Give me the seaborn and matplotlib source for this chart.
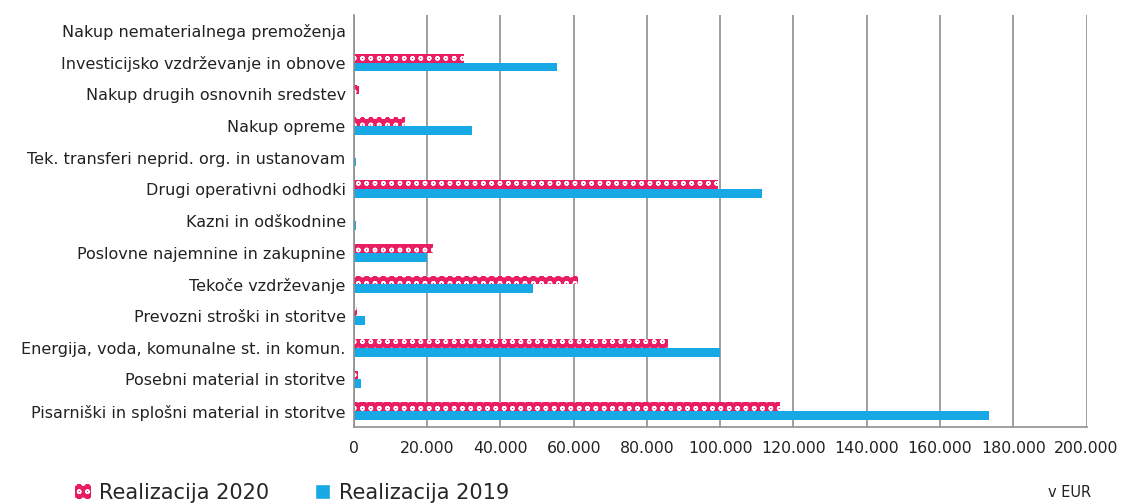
import matplotlib
matplotlib.use("Agg")
import matplotlib.pyplot as plt
import matplotlib.ticker as mticker
from matplotlib.patches import Patch
import pandas as pd
import seaborn as sns

PINK = "#ea1c63"
BLUE = "#17a8e6"
GRID = "#8f8f8f"

categories = [
    "Nakup nematerialnega premoženja",
    "Investicijsko vzdrževanje in obnove",
    "Nakup drugih osnovnih sredstev",
    "Nakup opreme",
    "Tek. transferi neprid. org. in ustanovam",
    "Drugi operativni odhodki",
    "Kazni in odškodnine",
    "Poslovne najemnine in zakupnine",
    "Tekoče vzdrževanje",
    "Prevozni stroški in storitve",
    "Energija, voda, komunalne st. in komun.",
    "Posebni material in storitve",
    "Pisarniški in splošni material in storitve",
]
realizacija_2020 = [0, 30000, 1400, 14000, 0, 99500, 0, 21600, 61200, 900, 85800, 1200, 116400]
realizacija_2019 = [0, 55500, 0, 32200, 500, 111500, 500, 20000, 48900, 3000, 99800, 1900, 173500]
series = ["Realizacija 2020", "Realizacija 2019"]
x_ticks = list(range(0, 200001, 20000))

df = pd.DataFrame({
    "kategorija": categories * 2,
    "vrednost": realizacija_2020 + realizacija_2019,
    "serija": [series[0]] * len(categories) + [series[1]] * len(categories),
})

sns.set_style("white")
plt.rcParams["font.family"] = ["DejaVu Sans"]
plt.rcParams["hatch.linewidth"] = 1.0

fig = plt.figure(figsize=(11.23, 5.04), dpi=100)
ax = fig.add_axes([0.3152, 0.1528, 0.6523, 0.8174])
sns.barplot(
    data=df,
    y="kategorija",
    x="vrednost",
    hue="serija",
    hue_order=series,
    order=categories,
    orient="h",
    palette=[PINK, BLUE],
    saturation=1,
    width=0.56,
    gap=0,
    linewidth=0,
    legend=False,
    ax=ax,
)

# patterned 2020 bars (pink with small white dots)
for bar in ax.containers[0]:
    bar.set_facecolor(PINK)
    bar.set_edgecolor("white")
    bar.set_hatch("oo")
    bar.set_linewidth(0)

ax.set_xlim(0, 200000)
ax.set_xticks(x_ticks)
ax.xaxis.set_major_formatter(
    mticker.FuncFormatter(lambda v, p: f"{int(v):,}".replace(",", "."))
)
ax.set_xlabel("")
ax.set_ylabel("")
ax.grid(axis="x", color=GRID, lw=1.2)
ax.set_axisbelow(True)
for side in ["top", "right"]:
    ax.spines[side].set_visible(False)
for side in ["left", "bottom"]:
    ax.spines[side].set_color(GRID)
    ax.spines[side].set_linewidth(1.2)
ax.tick_params(axis="x", direction="out", length=4, color=GRID, pad=6,
               labelsize=11.3, labelcolor="#222222")
ax.tick_params(axis="y", length=0, pad=6, labelsize=11.5, labelcolor="#222222")

handles = [
    Patch(facecolor=PINK, edgecolor="white", hatch="oo", lw=0, label=series[0]),
    Patch(facecolor=BLUE, label=series[1]),
]
fig.legend(handles=handles, loc="center left", bbox_to_anchor=(0.05, 0.022),
           ncol=2, frameon=False, fontsize=15, handlelength=0.75,
           handleheight=0.75, handletextpad=0.4, columnspacing=2.2)
fig.text(0.972, 0.022, "v EUR", ha="right", va="center", fontsize=10.5,
         color="#222222")

fig.savefig("out.png", dpi=100)
